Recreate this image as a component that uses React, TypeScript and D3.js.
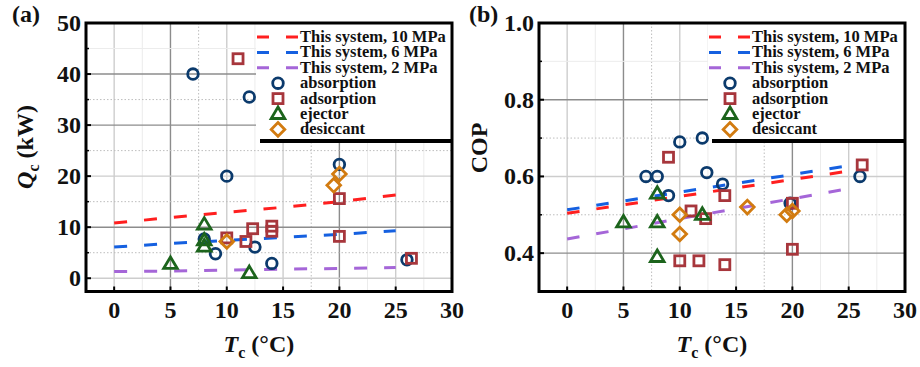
import React from 'react';
import * as d3 from 'd3';

// ---- data ----
const tLine = [0, 5, 10, 15, 20, 25];
const qc10 = [10.8, 11.9, 12.9, 13.9, 15.0, 16.3];
const qc6 = [6.1, 6.8, 7.4, 8.0, 8.6, 9.3];
const qc2 = [1.3, 1.4, 1.6, 1.8, 1.9, 2.1];
const cop10 = [0.504, 0.526, 0.548, 0.57, 0.592, 0.614];
const cop6 = [0.513, 0.536, 0.559, 0.582, 0.605, 0.628];
const cop2 = [0.437, 0.463, 0.49, 0.516, 0.542, 0.568];

const absQT = [7, 12, 10, 8, 9, 12.5, 14, 20, 26];
const absQ = [40, 35.5, 20, 7.7, 4.8, 6.1, 2.9, 22.3, 3.6];
const adsQT = [11, 12.3, 10, 11.7, 14, 14, 20, 20, 26.4];
const adsQ = [43, 9.7, 7.9, 7.2, 10.2, 9.2, 15.6, 8.2, 3.9];
const ejQT = [8, 8, 8, 5, 12];
const ejQ = [10.5, 7.4, 6.2, 2.8, 1.0];
const desQT = [10, 20, 19.5];
const desQ = [7.2, 20.4, 18.2];

const absCT = [10, 12, 7, 8, 12.4, 9, 13.8, 26, 19.8];
const absC = [0.69, 0.7, 0.6, 0.6, 0.61, 0.55, 0.58, 0.6, 0.53];
const adsCT = [9, 11, 12.3, 14, 10, 11.7, 14, 26.2, 20, 20];
const adsC = [0.65, 0.51, 0.49, 0.55, 0.38, 0.38, 0.37, 0.63, 0.53, 0.41];
const ejCT = [8, 5, 8, 8, 12];
const ejC = [0.555, 0.48, 0.48, 0.39, 0.5];
const desCT = [10, 10, 16, 19.5, 20];
const desC = [0.5, 0.45, 0.52, 0.5, 0.51];

const xTicks = [0, 5, 10, 15, 20, 25, 30];
const qTicks = [0, 10, 20, 30, 40, 50];
const copTicks = [0.4, 0.6, 0.8, 1.0];

const lineNames = ['This system, 10 MPa', 'This system, 6 MPa', 'This system, 2 MPa'];
const markerNames = ['absorption', 'adsorption', 'ejector', 'desiccant'];

// ---- styles ----
const LINE_COLORS = ['#ff1f1f', '#1560e0', '#a566d8'];
const MARK_COLORS = ['#0b3a6c', '#a7363c', '#1c641c', '#d27b10'];
const FONT = '"Liberation Serif", "Times New Roman", serif';

type Shape = 'circle' | 'square' | 'triangle' | 'diamond';
const SHAPES: Shape[] = ['circle', 'square', 'triangle', 'diamond'];

function Marker({ x, y, shape, color }: { x: number; y: number; shape: Shape; color: string }) {
  const sw = 2.8;
  if (shape === 'circle') return <circle cx={x} cy={y} r={5.3} fill="none" stroke={color} strokeWidth={sw} />;
  if (shape === 'square') return <rect x={x - 5} y={y - 5} width={10} height={10} fill="none" stroke={color} strokeWidth={sw} />;
  if (shape === 'triangle')
    return <path d={`M${x},${y - 7}L${x + 6.8},${y + 4.5}L${x - 6.8},${y + 4.5}Z`} fill="none" stroke={color} strokeWidth={sw} />;
  return <path d={`M${x},${y - 6.8}L${x + 6.8},${y}L${x},${y + 6.8}L${x - 6.8},${y}Z`} fill="none" stroke={color} strokeWidth={sw} />;
}

function gridStyle(kind: string) {
  if (kind === 'dark') return { stroke: '#8c8c8c', strokeWidth: 1.4 };
  if (kind === 'light') return { stroke: '#cdcdcd', strokeWidth: 1.4 };
  if (kind === 'dot') return { stroke: '#bdbdbd', strokeWidth: 1, strokeDasharray: '1.5 2' };
  return { stroke: '#ececec', strokeWidth: 1 };
}

function vKind(v: number) {
  if (v === 5 || v === 20) return 'dark';
  if (v === 7.5 || v === 17.5) return 'dot';
  if (v % 5 === 0) return 'light';
  return 'faint';
}

type PanelProps = {
  x0: number;
  x1: number;
  yDomain: [number, number];
  yTicks: number[];
  yMinor: number[];
  hKinds: [number, string][];
  lines: number[][];
  points: [number[], number[]][];
  yLabel: React.ReactNode;
  yLabelX: number;
  yLabelY: number;
  tag: string;
  tagX: number;
  legendX: number;
  fmt: (v: number) => string;
  dash: string;
};

function Panel(p: PanelProps) {
  const top = 23, bottom = 291.5;
  const x = d3.scaleLinear().domain([-2.5, 30]).range([p.x0, p.x1]);
  const y = d3.scaleLinear().domain(p.yDomain).range([bottom, top]);
  const vGrid = d3.range(0, 30, 2.5);
  const legendTop = top;
  const legendBottom = 139;
  const gen = d3.line<number>().x((_, i) => x(tLine[i])).y((d) => y(d));
  const rowY = (i: number) => 37 + i * 15.4;
  const lx0 = p.legendX + 1;
  return (
    <g>
      {vGrid.map((v) => (
        <line key={'v' + v} x1={x(v)} x2={x(v)} y1={top} y2={bottom} {...gridStyle(vKind(v))} />
      ))}
      {p.hKinds.map(([v, k]) => (
        <line key={'h' + v} x1={p.x0} x2={p.x1} y1={y(v)} y2={y(v)} {...gridStyle(k)} />
      ))}
      <rect x={p.legendX + 4} y={legendTop} width={p.x1 - p.legendX - 4} height={legendBottom - legendTop + 4} fill="black" />
      <rect x={p.legendX} y={legendTop} width={p.x1 - p.legendX} height={legendBottom - legendTop} fill="white" />
      {p.lines.map((vals, i) => (
        <path key={'l' + i} d={gen(vals) || ''} fill="none" stroke={LINE_COLORS[i]} strokeWidth={3} strokeDasharray={p.dash} />
      ))}
      {p.points.map(([xs, ys], si) =>
        xs.map((xv, j) => <Marker key={si + '-' + j} x={x(xv)} y={y(ys[j])} shape={SHAPES[si]} color={MARK_COLORS[si]} />)
      )}
      {lineNames.map((n, i) => (
        <g key={'ln' + i}>
          <line x1={lx0} x2={lx0 + 41} y1={rowY(i)} y2={rowY(i)} stroke={LINE_COLORS[i]} strokeWidth={3} strokeDasharray="12 17" />
          <text x={lx0 + 43} y={rowY(i) + 5} fontFamily={FONT} fontWeight="bold" fontSize={16.5} fill="#111">{n}</text>
        </g>
      ))}
      {markerNames.map((n, i) => (
        <g key={'mn' + i}>
          <Marker x={lx0 + 21} y={rowY(i + 3)} shape={SHAPES[i]} color={MARK_COLORS[i]} />
          <text x={lx0 + 43} y={rowY(i + 3) + 5} fontFamily={FONT} fontWeight="bold" fontSize={16.5} fill="#111">{n}</text>
        </g>
      ))}
      {xTicks.map((t) => (
        <line key={'xt' + t} x1={x(t)} x2={x(t)} y1={bottom} y2={bottom - 5} stroke="black" strokeWidth={2} />
      ))}
      {p.yTicks.map((t) => (
        <line key={'yt' + t} x1={p.x0} x2={p.x0 + 5} y1={y(t)} y2={y(t)} stroke="black" strokeWidth={2} />
      ))}
      {p.yMinor.map((t) => (
        <line key={'ym' + t} x1={p.x0} x2={p.x0 + 3} y1={y(t)} y2={y(t)} stroke="black" strokeWidth={1.5} />
      ))}
      <rect x={p.x0} y={top} width={p.x1 - p.x0} height={bottom - top} fill="none" stroke="black" strokeWidth={3} />
      {xTicks.map((t) => (
        <text key={'xl' + t} x={x(t)} y={318} textAnchor="middle" fontFamily={FONT} fontWeight="bold" fontSize={24} fill="#111">{t}</text>
      ))}
      {p.yTicks.map((t) => (
        <text key={'yl' + t} x={p.x0 - 5} y={y(t) + 8} textAnchor="end" fontFamily={FONT} fontWeight="bold" fontSize={24} fill="#111">{p.fmt(t)}</text>
      ))}
      <text x={(x(10) + x(15)) / 2 + 4} y={352} textAnchor="middle" fontFamily={FONT} fontWeight="bold" fontSize={24} fill="#111">
        <tspan fontStyle="italic">T</tspan>
        <tspan fontSize={16} dy={6}>c</tspan>
        <tspan dy={-6}> (°C)</tspan>
      </text>
      <text transform={`translate(${p.yLabelX},${p.yLabelY}) rotate(-90)`} textAnchor="middle" fontFamily={FONT} fontWeight="bold" fontSize={24} fill="#111">
        {p.yLabel}
      </text>
      <text x={p.tagX} y={22} fontFamily={FONT} fontWeight="bold" fontSize={24} fill="#111">{p.tag}</text>
    </g>
  );
}

export default function App() {
  return (
    <svg width={920} height={367} style={{ position: 'absolute', left: 0, top: 0, background: 'white' }}>
      <Panel
        x0={86}
        x1={452}
        yDomain={[-2.6, 50]}
        yTicks={qTicks}
        yMinor={[5, 15, 25, 35, 45]}
        hKinds={[[0, 'light'], [5, 'dot'], [10, 'dark'], [15, 'dot'], [20, 'light'], [25, 'dot'], [30, 'dark'], [35, 'dot'], [40, 'dark'], [45, 'faint']]}
        lines={[qc10, qc6, qc2]}
        points={[[absQT, absQ], [adsQT, adsQ], [ejQT, ejQ], [desQT, desQ]]}
        yLabel={
          <>
            <tspan fontStyle="italic">Q</tspan>
            <tspan fontSize={16} dy={6}>c</tspan>
            <tspan dy={-6}> (kW)</tspan>
          </>
        }
        yLabelX={33}
        yLabelY={147}
        tag="(a)"
        tagX={12}
        legendX={256}
        fmt={(v) => String(v)}
        dash="13 17"
      />
      <Panel
        x0={539}
        x1={905}
        yDomain={[0.3, 1.0]}
        yTicks={copTicks}
        yMinor={[0.5, 0.7, 0.9]}
        hKinds={[[0.4, 'dark'], [0.5, 'dot'], [0.6, 'light'], [0.7, 'dot'], [0.8, 'dark'], [0.9, 'faint']]}
        lines={[cop10, cop6, cop2]}
        points={[[absCT, absC], [adsCT, adsC], [ejCT, ejC], [desCT, desC]]}
        yLabel={<tspan>COP</tspan>}
        yLabelX={487}
        yLabelY={148}
        tag="(b)"
        tagX={469}
        legendX={708}
        fmt={(v) => v.toFixed(1)}
        dash="12.5 17"
      />
    </svg>
  );
}
